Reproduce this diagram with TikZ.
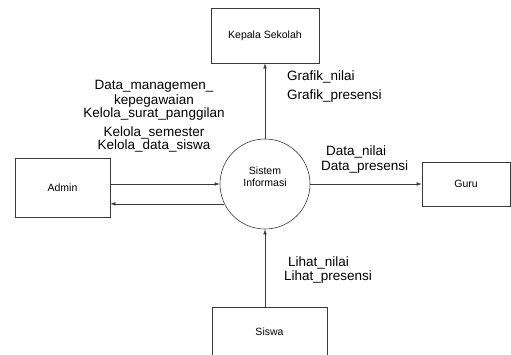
\documentclass[tikz,border=0pt]{standalone}
\usepackage{fontspec}
\setmainfont{Liberation Sans}
\usetikzlibrary{arrows.meta}
\definecolor{garisDFD}{HTML}{3A3A3A}
\tikzset{
  entitas/.style={draw=garisDFD,line width=0.6pt,inner sep=0pt,font=\fontsize{10.5}{12.5}\selectfont},
  proses/.style={draw=garisDFD,line width=0.6pt,circle,inner sep=0pt,minimum size=90pt},
  aliran/.style={garisDFD,line width=0.6pt,-{Latex[length=5pt,width=3.5pt]}},
  ket/.style={inner sep=0pt,font=\fontsize{13.5}{15}\selectfont}
}
\begin{document}
\begin{tikzpicture}[x=1pt,y=-1pt]
  \clip (0,0) rectangle (511,354);
  \fill[white] (0,0) rectangle (511,354);
  \node[proses] (sistem) at (265,184) {};
  \node[align=center,font=\fontsize{10.5}{12.5}\selectfont] (sistemteks) at (265,176.5) {Sistem\\Informasi};
  \node[entitas,minimum width=108pt,minimum height=55pt] (kepsek) at (265,35.5) {Kepala Sekolah};
  \node[entitas,minimum width=95pt,minimum height=59pt] (admin) at (62.5,187.5) {Admin};
  \node[entitas,minimum width=88pt,minimum height=44pt] (guru) at (466,184) {Guru};
  \node[entitas,minimum width=115pt,minimum height=49pt] (siswa) at (269.5,331.5) {Siswa};
  \draw[aliran] (sistem.north) -- (kepsek.south);
  \draw[aliran] (sistem.west -| admin.east) -- (sistem.west);
  \draw[aliran] (sistem.206) -- (sistem.206 -| admin.east);
  \draw[aliran] (sistem.east) -- (guru.west);
  \draw[aliran] (siswa.north -| sistem.south) -- (sistem.south);
  \node[ket,align=center] (kelola) at (154,116) {Data\_managemen\_\\kepegawaian\\[-2pt]Kelola\_surat\_panggilan\\[4pt]Kelola\_semester\\[-2pt]Kelola\_data\_siswa};
  \node[ket,align=left,anchor=west] (grafik) at (287,86.5) {Grafik\_nilai\\[4pt]Grafik\_presensi};
  \node[ket,anchor=west] (datanilai) at (326,152) {Data\_nilai};
  \node[ket,anchor=west] (datapresensi) at (321,167) {Data\_presensi};
  \node[ket,anchor=west] (lihatnilai) at (288,263) {Lihat\_nilai};
  \node[ket,anchor=west] (lihatpresensi) at (284,277) {Lihat\_presensi};
\end{tikzpicture}
\end{document}
